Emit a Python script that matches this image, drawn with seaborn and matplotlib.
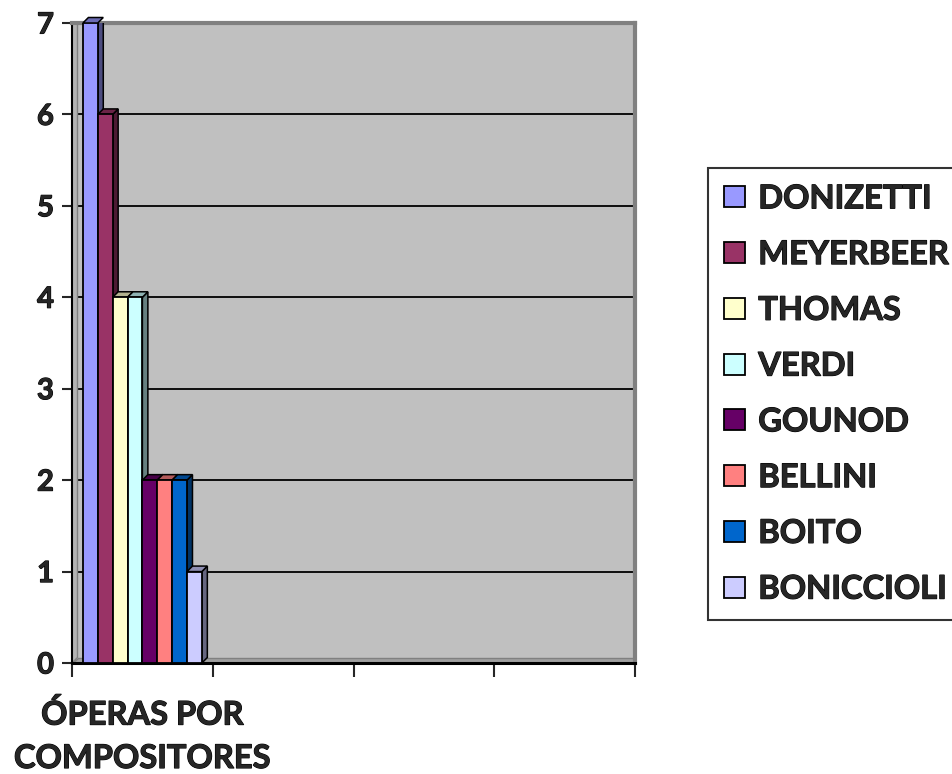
import numpy as np
import pandas as pd
import seaborn as sns
import matplotlib.pyplot as plt
import matplotlib.colors as mcolors
import matplotlib.patheffects as pe
from matplotlib.patches import Polygon, Rectangle

# Número de óperas por compositor
compositores = ["DONIZETTI", "MEYERBEER", "THOMAS", "VERDI",
                "GOUNOD", "BELLINI", "BOITO", "BONICCIOLI"]
operas = [7, 6, 4, 4, 2, 2, 2, 1]
colores = ["#9999FF", "#993366", "#FFFFCC", "#CCFFFF",
           "#660066", "#FF8080", "#0066CC", "#CCCCFF"]
categoria = "ÓPERAS POR\nCOMPOSITORES"
y_ticks = [0, 1, 2, 3, 4, 5, 6, 7]

df = pd.DataFrame({"categoria": [categoria] * len(compositores),
                   "compositor": compositores,
                   "operas": operas})

sns.set_style("white")
plt.rcParams["font.family"] = ["Lato", "DejaVu Sans"]
plt.rcParams["font.weight"] = "bold"
heavy = [pe.withStroke(linewidth=0.8, foreground="black")]

W, H = 952, 774
fig = plt.figure(figsize=(W / 100, H / 100), dpi=100)
ax_l, ax_r, ax_t, ax_b = 72, 635, 23, 663
ax = fig.add_axes([ax_l / W, 1 - ax_b / H, (ax_r - ax_l) / W, (ax_b - ax_t) / H])

sns.barplot(data=df, x="categoria", y="operas", hue="compositor",
            hue_order=compositores, palette=colores, width=0.845,
            edgecolor="black", linewidth=1.3, saturation=1,
            legend=True, ax=ax, zorder=3)

bars = [p for p in ax.patches if isinstance(p, Rectangle) and p.get_height() > 0]
bars.sort(key=lambda p: p.get_x())

ax.set_facecolor("#C0C0C0")
ax.set_xlim(-0.5, 3.5)
ax.set_ylim(0, 7)
ax.set_xlabel("")
ax.set_ylabel("")

# gridlines across the back wall
for v in y_ticks[1:-1]:
    ax.axhline(v, color="black", lw=1.3, zorder=1)

# 3D depth, in data units
depth_px = 5.5
x_per_px = 4.0 / (ax_r - ax_l)
y_per_px = 7.0 / (ax_b - ax_t)
dx, dy = depth_px * x_per_px, depth_px * y_per_px

# narrow side wall and floor strip of the chart box
ax.add_patch(Polygon([(-0.5, 0), (-0.5 + dx, dy), (-0.5 + dx, 7), (-0.5, 7)],
                     closed=True, facecolor="#B4B4B4", edgecolor="#808080",
                     lw=1, zorder=1.5))
ax.add_patch(Polygon([(-0.5, 0), (3.5, 0), (3.5, dy), (-0.5 + dx, dy)],
                     closed=True, facecolor="#A0A0A0", edgecolor="#808080",
                     lw=1, zorder=1.5))

# side and top faces of every bar
for i, p in enumerate(bars):
    x0, w, h = p.get_x(), p.get_width(), p.get_height()
    x1 = x0 + w
    base = np.array(mcolors.to_rgb(p.get_facecolor()))
    p.set_zorder(4 + 2 * i)
    side = Polygon([(x1, 0), (x1 + dx, dy), (x1 + dx, h + dy), (x1, h)],
                   closed=True, facecolor=base * 0.5, edgecolor="black",
                   lw=1.1, zorder=3 + 2 * i)
    top = Polygon([(x0, h), (x1, h), (x1 + dx, h + dy), (x0 + dx, h + dy)],
                  closed=True, facecolor=base * 0.7, edgecolor="black",
                  lw=1.1, zorder=3 + 2 * i, clip_on=False)
    ax.add_patch(side)
    ax.add_patch(top)

# axes frame
for s in ["top", "right"]:
    ax.spines[s].set_color("#808080")
    ax.spines[s].set_linewidth(3)
ax.spines["left"].set_color("black")
ax.spines["left"].set_linewidth(1.5)
ax.spines["bottom"].set_color("black")
ax.spines["bottom"].set_linewidth(2.2)

ax.set_yticks(y_ticks)
ax.set_yticklabels([str(v) for v in y_ticks], fontsize=21, fontweight="bold")
ax.tick_params(axis="y", direction="out", length=7, width=1.5, pad=6, left=True)

# category boundary ticks and the centred category label
ax.set_xticks([-0.5, 0.5, 1.5, 2.5, 3.5])
ax.set_xticklabels([])
ax.tick_params(axis="x", which="major", direction="out", length=10, width=1.5,
               bottom=True)
ax.set_xticks([0], minor=True)
ax.set_xticklabels([categoria], minor=True, fontsize=23.5, fontweight="bold",
                   linespacing=1.6)
ax.tick_params(axis="x", which="minor", length=0, pad=26)

for t in ax.get_yticklabels() + ax.get_xticklabels(minor=True):
    t.set_path_effects(heavy)

# legend
ax.get_legend().remove()
handles = [plt.Rectangle((0, 0), 1, 1, facecolor=c, edgecolor="black", lw=1.3)
           for c in colores]
leg = ax.legend(handles, compositores, loc="upper left",
                bbox_to_anchor=(708 / W, 1 - 168 / H),
                bbox_transform=fig.transFigure, borderaxespad=0,
                prop={"family": ["Lato", "DejaVu Sans"], "weight": "bold",
                      "size": 23.5},
                handlelength=0.62, handleheight=0.62, handletextpad=0.42,
                labelspacing=0.82, borderpad=0.5, frameon=True,
                fancybox=False, shadow=False)
leg.get_frame().set_edgecolor("black")
leg.get_frame().set_linewidth(1.5)
leg.get_frame().set_facecolor("white")
for t in leg.get_texts():
    t.set_path_effects(heavy)

fig.savefig("out.png", dpi=100, facecolor="white")
